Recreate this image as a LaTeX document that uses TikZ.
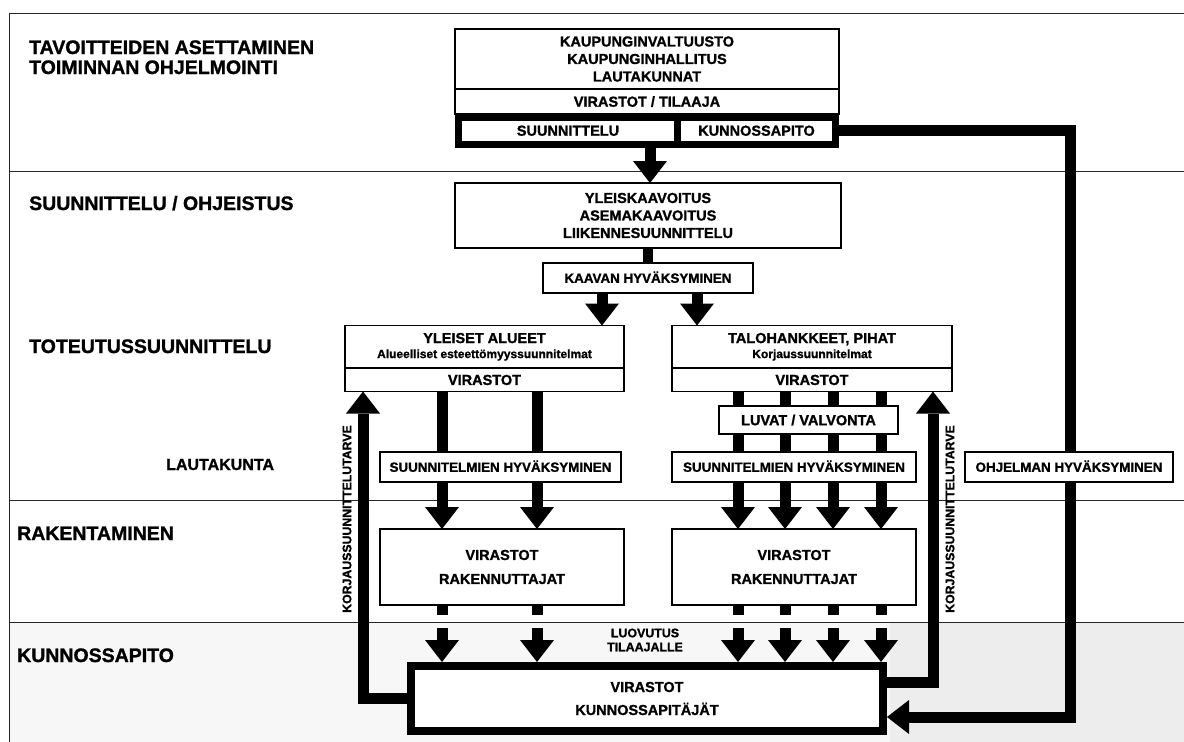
\documentclass[tikz,border=0pt]{standalone}
\usepackage{fontspec}
\setmainfont{Liberation Sans}[BoldFeatures={FakeBold=1.2}]
\usetikzlibrary{arrows.meta}
\pgfdeclarelayer{shade}
\pgfdeclarelayer{bgl}
\pgfsetlayers{shade,bgl,main}
\begin{document}
\begin{tikzpicture}[x=1pt,y=-1pt,
  box/.style={draw, line width=1.2pt, fill=white, inner sep=0pt, outer sep=0pt, align=center,
    font=\fontsize{14.5}{17.5}\selectfont\bfseries},
  onebox/.style={box, text height=10.4pt, text depth=0pt},
  apprbox/.style={box, font=\fontsize{13.4}{16}\selectfont\bfseries, text height=9.6pt, text depth=0pt},
  thickbox/.style={box, line width=7pt},
  heading/.style={anchor=base west, inner sep=0pt, font=\fontsize{19.5}{22}\selectfont\bfseries},
  sidetext/.style={inner sep=0pt, rotate=90, font=\fontsize{12.3}{14}\selectfont\bfseries},
  fatline/.style={line width=11pt},
  fatarrow/.style={line width=11pt, line join=miter, -{Triangle[length=22pt,width=34pt,line width=0pt]}},
  rulel/.style={line width=1pt, black!85}
]
\useasboundingbox (0,0) rectangle (1184,742);

% ---------- background and section rules ----------
\begin{pgfonlayer}{shade}
  \fill[white] (0,0) rectangle (1184,742);
  \fill[black!3] (9,622) rectangle (1184,742);
  \fill[black!7] (890,622) rectangle (1184,742);
  \draw[rulel] (9,13) -- (1184,13);
  \draw[rulel] (9,171) -- (1184,171);
  \draw[rulel] (9,500) -- (1184,500);
  \draw[rulel] (9,622) -- (1184,622);
  \draw[rulel] (9,13) -- (9,742);
\end{pgfonlayer}

% ---------- headings ----------
\node[heading] (h1a) at (29,54) {TAVOITTEIDEN ASETTAMINEN};
\node[heading] (h1b) at (29,74) {TOIMINNAN OHJELMOINTI};
\node[heading] (h2) at (29,210) {SUUNNITTELU / OHJEISTUS};
\node[heading] (h3) at (29,353) {TOTEUTUSSUUNNITTELU};
\node[heading, font=\fontsize{16}{19}\selectfont\bfseries] (h4) at (166,470) {LAUTAKUNTA};
\node[heading] (h5) at (17,540) {RAKENTAMINEN};
\node[heading] (h6) at (17,662) {KUNNOSSAPITO};

% ---------- boxes ----------
\node[box, minimum width=384pt, minimum height=60pt] (kv) at (647,59)
  {KAUPUNGINVALTUUSTO\\KAUPUNGINHALLITUS\\LAUTAKUNNAT};
\node[onebox, minimum width=384pt, minimum height=25pt] (vt) at (647,101.5) {VIRASTOT / TILAAJA};
\node[thickbox, text height=10.4pt, text depth=0pt, minimum width=219pt, minimum height=27pt] (su) at (568,130.5) {SUUNNITTELU};
\node[thickbox, text height=10.4pt, text depth=0pt, minimum width=158pt, minimum height=27pt] (ku) at (756.5,130.5) {KUNNOSSAPITO};

\node[box, minimum width=386pt, minimum height=65pt] (yk) at (648,215.5)
  {YLEISKAAVOITUS\\ASEMAKAAVOITUS\\LIIKENNESUUNNITTELU};
\node[apprbox, minimum width=210pt, minimum height=30pt] (ka) at (648,278) {KAAVAN HYVÄKSYMINEN};

\node[box, font=\fontsize{14.5}{15}\selectfont\bfseries, minimum width=279pt, minimum height=42.5pt] (yt) at (484.5,346.75)
  {YLEISET ALUEET\\{\fontsize{12}{14}\selectfont Alueelliset esteettömyyssuunnitelmat}};
\node[onebox, minimum width=279pt, minimum height=23.5pt] (yv) at (484.5,379.75) {VIRASTOT};
\node[box, font=\fontsize{14.5}{15}\selectfont\bfseries, minimum width=280pt, minimum height=42.5pt] (tt) at (812,346.75)
  {TALOHANKKEET, PIHAT\\{\fontsize{12}{14}\selectfont Korjaussuunnitelmat}};
\node[onebox, minimum width=280pt, minimum height=23.5pt] (tv) at (812,379.75) {VIRASTOT};

\node[onebox, minimum width=179pt, minimum height=28pt] (lv) at (808.5,420) {LUVAT / VALVONTA};
\node[apprbox, minimum width=241pt, minimum height=30pt] (sl) at (500.5,467) {SUUNNITELMIEN HYVÄKSYMINEN};
\node[apprbox, minimum width=244pt, minimum height=30pt] (sr) at (794,467) {SUUNNITELMIEN HYVÄKSYMINEN};
\node[apprbox, minimum width=208pt, minimum height=30pt] (oh) at (1069,467) {OHJELMAN HYVÄKSYMINEN};

\node[box, font=\fontsize{14.5}{24}\selectfont\bfseries, minimum width=244pt, minimum height=76pt] (rl) at (502,567)
  {VIRASTOT\\RAKENNUTTAJAT};
\node[box, font=\fontsize{14.5}{24}\selectfont\bfseries, minimum width=244pt, minimum height=76pt] (rr) at (794,567)
  {VIRASTOT\\RAKENNUTTAJAT};

\node[box, line width=8pt, font=\fontsize{14.5}{23}\selectfont\bfseries, minimum width=472pt, minimum height=65pt] (bot) at (647,698.5)
  {VIRASTOT\\KUNNOSSAPITÄJÄT};

\node[inner sep=0pt, align=center, font=\fontsize{12.4}{14}\selectfont\bfseries] (luov) at (645,640)
  {LUOVUTUS\\TILAAJALLE};

\node[sidetext] (kl) at (347,519) {KORJAUSSUUNNITTELUTARVE};
\node[sidetext] (kr) at (950,519) {KORJAUSSUUNNITTELUTARVE};

% ---------- helper coordinates ----------
\coordinate (c0) at (650,0);
\coordinate (k1) at (602,0);
\coordinate (k2) at (697,0);
\coordinate (c1) at (442,0);
\coordinate (c2) at (537,0);
\coordinate (c3) at (738,0);
\coordinate (c4) at (785,0);
\coordinate (c5) at (833,0);
\coordinate (c6) at (881,0);
\coordinate (ly) at (0,628);
\coordinate (xl) at (363,0);
\coordinate (xr) at (933,0);
\coordinate (yr) at (0,682);
\coordinate (kc) at (1070,717);
\coordinate (bt) at ([yshift=4pt]bot.north);
\coordinate (be) at ([xshift=4pt]bot.east);

% ---------- connectors ----------
\begin{pgfonlayer}{bgl}
  \draw[fatarrow] (su.south -| c0) -- (yk.north -| c0);
  \draw[line width=10pt] (yk.south) -- (ka.north);
  \draw[fatarrow] (ka.south -| k1) -- (yt.north -| k1);
  \draw[fatarrow] (ka.south -| k2) -- (tt.north -| k2);
  \foreach \c in {c1,c2} {
    \draw[fatarrow] (yv.south -| \c) -- (rl.north -| \c);
    \draw[fatline] (rl.south -| \c) -- ++(0,10);
    \draw[fatarrow] (\c |- ly) -- (bt -| \c);
  }
  \foreach \c in {c3,c4,c5,c6} {
    \draw[fatarrow] (tv.south -| \c) -- (rr.north -| \c);
    \draw[fatline] (rr.south -| \c) -- ++(0,10);
    \draw[fatarrow] (\c |- ly) -- (bt -| \c);
  }
  \draw[fatarrow] (bot.west) -| (yv.south -| xl);
  \draw[fatarrow] (bot.east |- yr) -| (tv.south -| xr);
  \draw[fatarrow] (ku.east) -| (kc) -- (be |- kc);
\end{pgfonlayer}
\end{tikzpicture}
\end{document}
